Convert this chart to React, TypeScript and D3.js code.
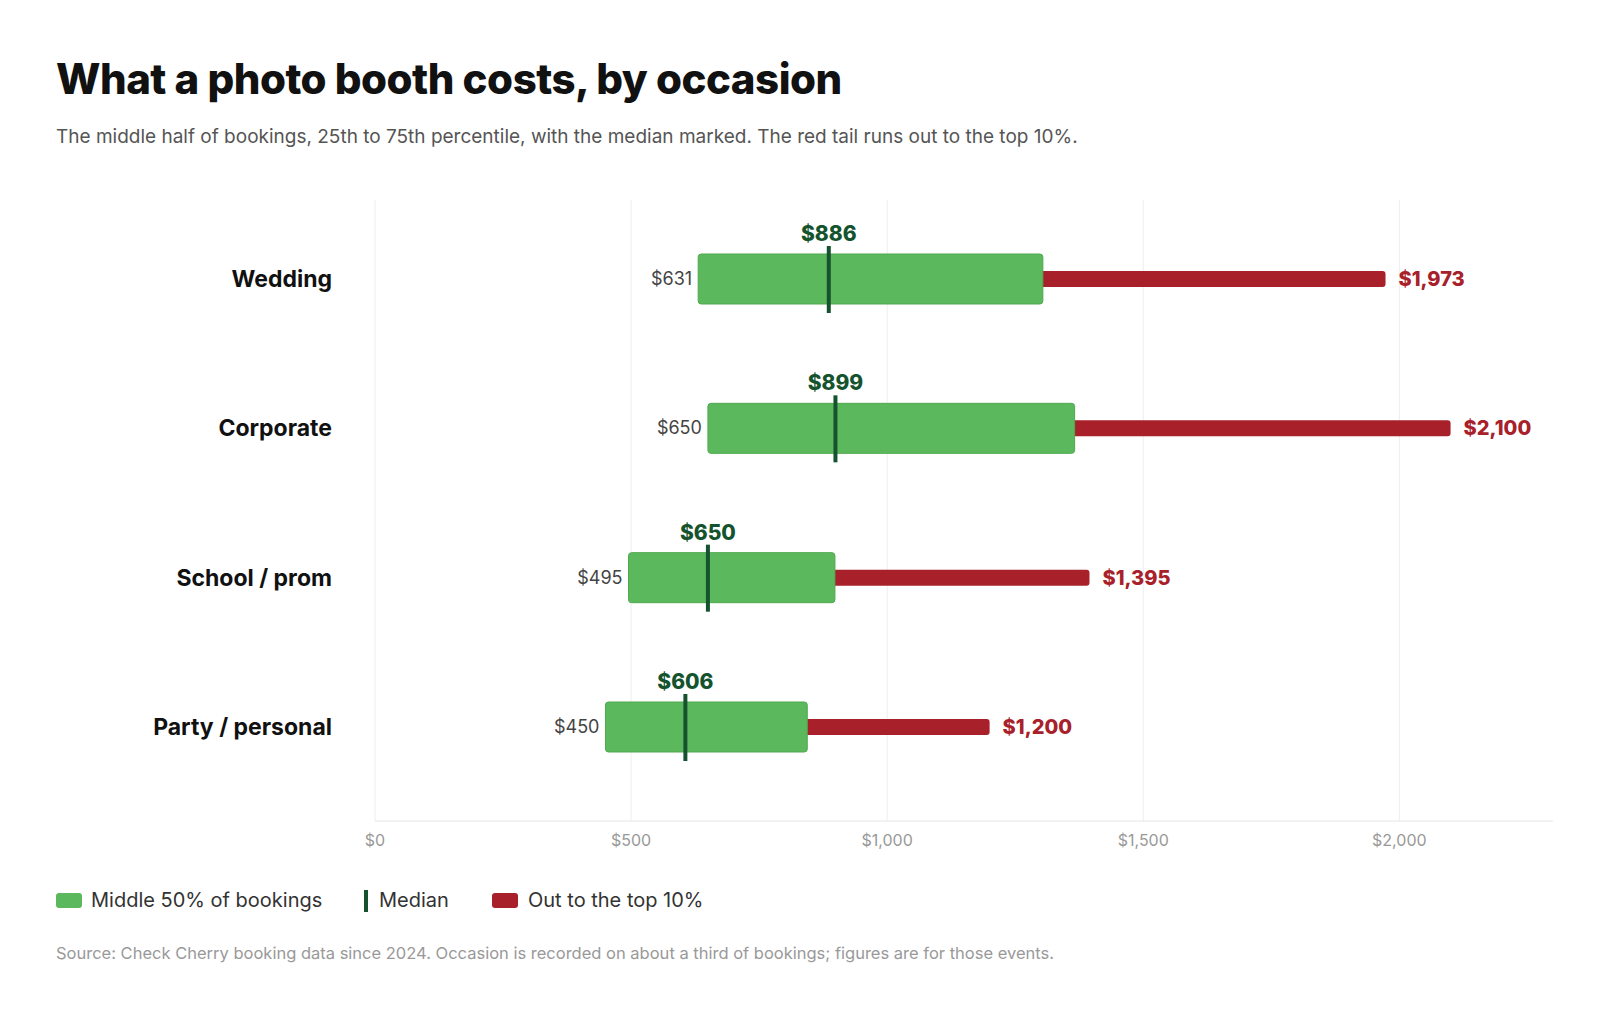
import * as d3 from 'd3';

// Booking price ranges by occasion
const OCCASIONS = ['Wedding', 'Corporate', 'School / prom', 'Party / personal'];
const P25 = [631, 650, 495, 450];
const MEDIAN = [886, 899, 650, 606];
const P75 = [1304, 1366, 898, 844];
const P90 = [1973, 2100, 1395, 1200];
const X_TICKS = [0, 500, 1000, 1500, 2000];

const GREEN = '#5cb85c';
const DARK = '#14532d';
const RED = '#a8202a';
const FONT = 'Inter, "Noto Sans", sans-serif';

export default function App() {
  const W = 1600, H = 1021;
  const x = d3.scaleLinear().domain([0, 2300]).range([375, 1553]);
  const y = d3.scalePoint<string>().domain(OCCASIONS).range([279, 727]);
  const fmt = (v: number) => '$' + d3.format(',')(v);
  const axisY = 821;

  return (
    <svg width={W} height={H} style={{ display: 'block', margin: -8, background: '#fff' }} fontFamily={FONT}>
      <text x={56} y={94} fontSize={42} fontWeight={800} fill="#111" letterSpacing={-0.5}>What a photo booth costs, by occasion</text>
      <text x={56} y={143} fontSize={19} fill="#555">The middle half of bookings, 25th to 75th percentile, with the median marked. The red tail runs out to the top 10%.</text>

      {X_TICKS.map((t) => (
        <g key={t}>
          <line x1={x(t)} x2={x(t)} y1={200} y2={axisY} stroke="#eee" />
          <text x={x(t)} y={axisY + 25} textAnchor="middle" fontSize={16} fill="#999">{fmt(t)}</text>
        </g>
      ))}
      <line x1={x(0)} x2={x(2300)} y1={axisY} y2={axisY} stroke="#e5e5e5" />

      {OCCASIONS.map((o, i) => {
        const cy = y(o)!;
        return (
          <g key={o}>
            <text x={332} y={cy + 8} textAnchor="end" fontSize={23} fontWeight={700} fill="#111">{o}</text>
            <rect x={x(P75[i]) - 4} y={cy - 8} width={x(P90[i]) - x(P75[i]) + 4} height={16} rx={3} fill={RED} />
            <rect x={x(P25[i])} y={cy - 25} width={x(P75[i]) - x(P25[i])} height={50} rx={3} fill={GREEN} stroke="#4fa94f" />
            <line x1={x(MEDIAN[i])} x2={x(MEDIAN[i])} y1={cy - 33} y2={cy + 34} stroke={DARK} strokeWidth={4} />
            <text x={x(MEDIAN[i])} y={cy - 38} textAnchor="middle" fontSize={21} fontWeight={800} fill={DARK}>{fmt(MEDIAN[i])}</text>
            <text x={x(P25[i]) - 6} y={cy + 6} textAnchor="end" fontSize={18} fill="#444">{fmt(P25[i])}</text>
            <text x={x(P90[i]) + 13} y={cy + 7} fontSize={20} fontWeight={800} fill={RED}>{fmt(P90[i])}</text>
          </g>
        );
      })}

      <g fontSize={20} fill="#333">
        <rect x={56} y={893} width={26} height={15} rx={3} fill={GREEN} />
        <text x={91} y={907}>Middle 50% of bookings</text>
        <rect x={364} y={890} width={4} height={22} fill={DARK} />
        <text x={379} y={907}>Median</text>
        <rect x={492} y={893} width={26} height={15} rx={3} fill={RED} />
        <text x={528} y={907}>Out to the top 10%</text>
      </g>
      <text x={56} y={959} fontSize={16.5} fill="#999">Source: Check Cherry booking data since 2024. Occasion is recorded on about a third of bookings; figures are for those events.</text>
    </svg>
  );
}
